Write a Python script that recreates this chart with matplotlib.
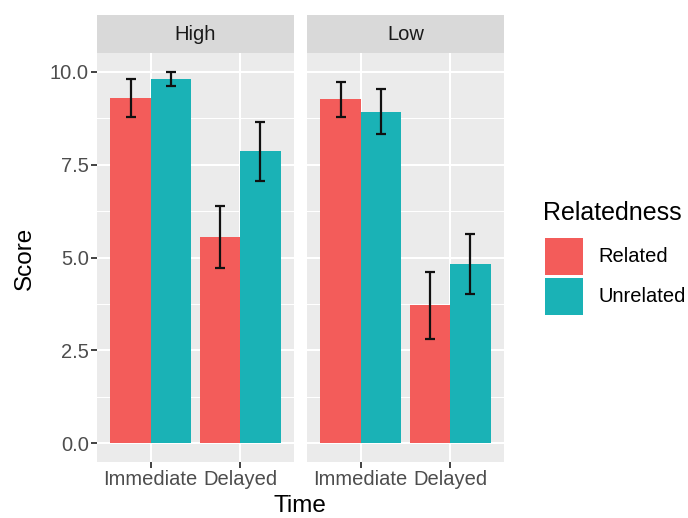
import matplotlib
matplotlib.use("Agg")
import matplotlib.pyplot as plt
import numpy as np

plt.rcParams['font.family'] = ['Liberation Sans', 'DejaVu Sans']

panels = ["High", "Low"]
times = ["Immediate", "Delayed"]
groups = ["Related", "Unrelated"]
colors = {"Related": "#F35C5A", "Unrelated": "#1AB2B6"}

# means[panel][group] -> per time
means = {
    "High": {"Related": [9.30, 5.56], "Unrelated": [9.79, 7.86]},
    "Low": {"Related": [9.26, 3.72], "Unrelated": [8.92, 4.83]},
}
errs = {
    "High": {"Related": [0.51, 0.83], "Unrelated": [0.19, 0.79]},
    "Low": {"Related": [0.47, 0.90], "Unrelated": [0.61, 0.80]},
}
yticks = [0.0, 2.5, 5.0, 7.5, 10.0]
yticklabels = ["0.0", "2.5", "5.0", "7.5", "10.0"]

W, H = 688, 518
fig = plt.figure(figsize=(W / 100, H / 100), dpi=100)

def fx(px):
    return px / W

def fy(py):
    return 1 - py / H

panel_lefts = [97, 307]
panel_w = 197
top, bottom = 53, 462
strip_top = 15

bar_w = 0.45
tick_col = "#4D4D4D"
for i, p in enumerate(panels):
    ax = fig.add_axes([fx(panel_lefts[i]), fy(bottom), fx(panel_w), (bottom - top) / H])
    ax.set_facecolor("#EBEBEB")
    x = np.arange(1, len(times) + 1)
    for j, g in enumerate(groups):
        off = (j - 0.5) * bar_w
        ax.bar(x + off, means[p][g], width=bar_w, color=colors[g], zorder=3)
        ax.errorbar(x + off, means[p][g], yerr=errs[p][g], fmt="none",
                    ecolor="#111111", elinewidth=1.6, capsize=3.3, capthick=1.6, zorder=4)
    ax.set_xlim(0.4, 2.6)
    ax.set_ylim(-0.5, 10.5)
    ax.set_yticks(yticks)
    ax.set_yticks([1.25, 3.75, 6.25, 8.75], minor=True)
    ax.set_xticks(x)
    ax.grid(which="major", color="white", linewidth=1.5, zorder=0)
    ax.grid(which="minor", axis="y", color="white", linewidth=0.75, zorder=0)
    ax.set_axisbelow(True)
    for s in ax.spines.values():
        s.set_visible(False)
    ax.tick_params(which="major", length=4, width=1.3, color="#333333",
                   labelsize=14.5, labelcolor=tick_col, pad=2)
    ax.tick_params(which="minor", length=0)
    ax.set_xticklabels(times)
    if i == 0:
        ax.set_yticklabels(yticklabels)
    else:
        ax.tick_params(axis="y", which="major", length=0, labelleft=False)
    # strip
    sax = fig.add_axes([fx(panel_lefts[i]), fy(top), fx(panel_w), (top - strip_top) / H])
    sax.set_facecolor("#D9D9D9")
    sax.set_xticks([])
    sax.set_yticks([])
    for s in sax.spines.values():
        s.set_visible(False)
    sax.text(0.5, 0.5, p, ha="center", va="center", fontsize=14.5, color="#1A1A1A",
             transform=sax.transAxes)

fig.text(fx(300), fy(506), "Time", ha="center", va="center", fontsize=17.5, color="black")
fig.text(fx(25), fy(258), "Score", ha="center", va="center", rotation=90, fontsize=17.5, color="black")

# legend
fig.text(fx(543), fy(213), "Relatedness", ha="left", va="center", fontsize=18, color="black")
key_tops = [238, 278]
for k, g in enumerate(groups):
    r = plt.Rectangle((fx(545), fy(key_tops[k] + 37)), fx(38), 37 / H,
                      transform=fig.transFigure, facecolor=colors[g], edgecolor="none")
    fig.patches.append(r)
    fig.text(fx(598), fy(key_tops[k] + 19), g, ha="left", va="center", fontsize=14.5, color="black")

fig.savefig("out.png", dpi=100)
